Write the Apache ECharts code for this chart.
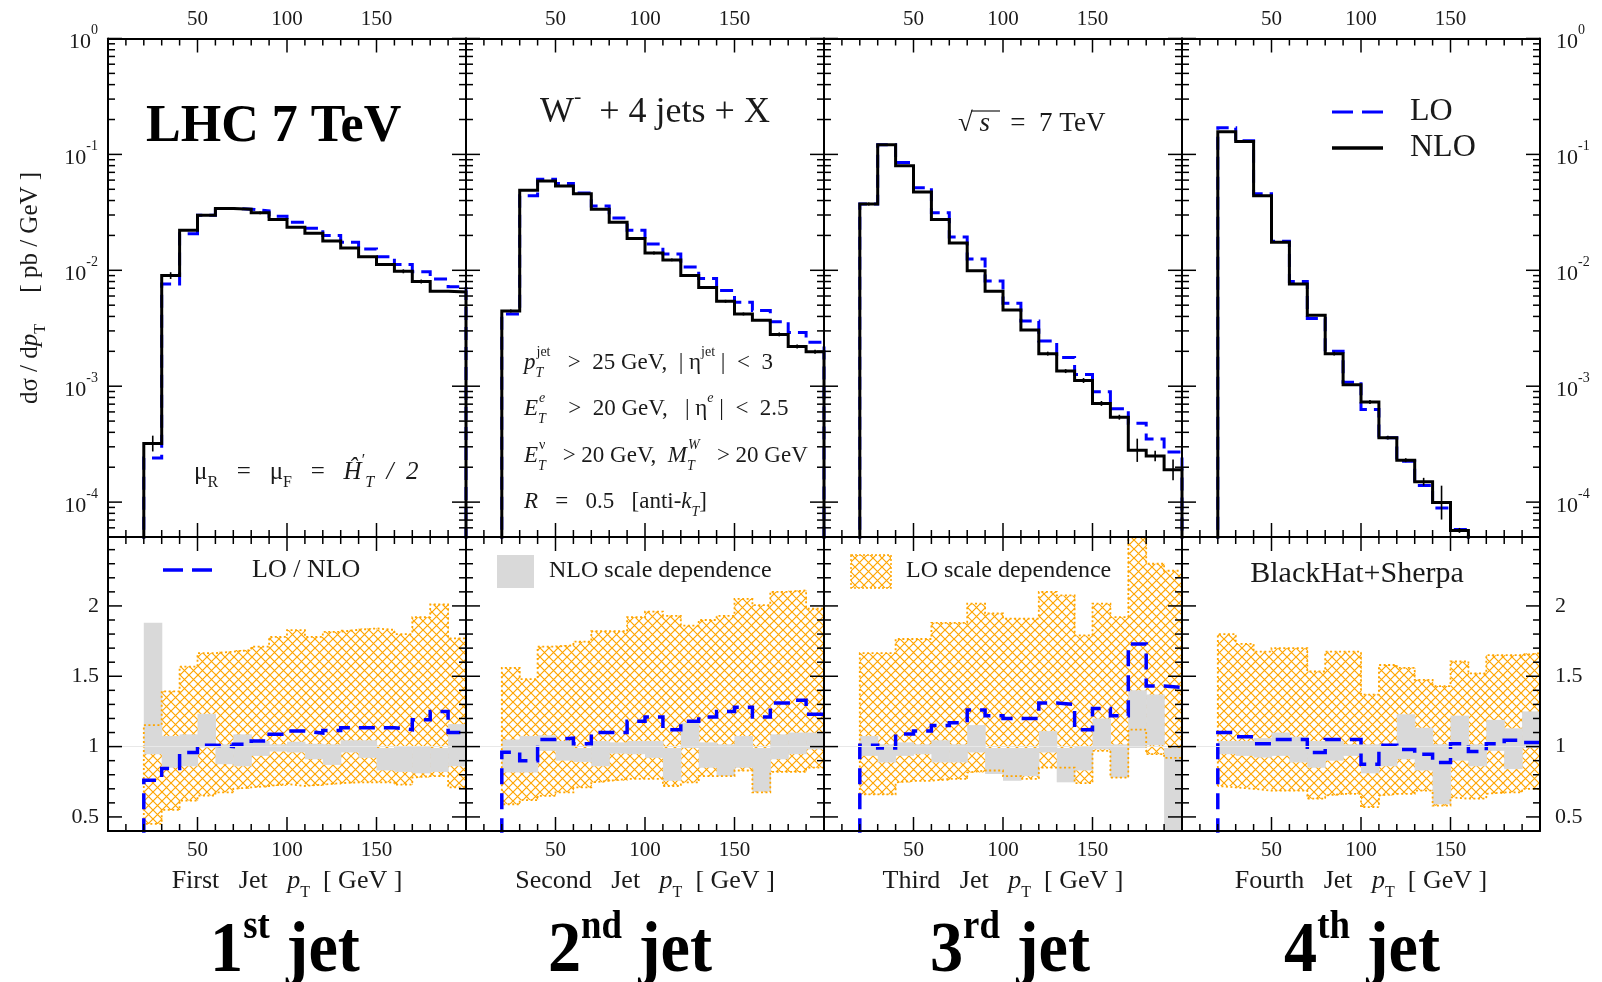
<!DOCTYPE html>
<html>
<head>
<meta charset="utf-8">
<script src="https://cdn.jsdelivr.net/npm/echarts@6/dist/echarts.min.js"></script>
<style>
html, body { margin: 0; padding: 0; background: #fff; }
#main { width: 1602px; height: 982px; }
</style>
</head>
<body>
<div id="main"></div>
<script>
// bin edges in GeV (10 GeV bins)
var binEdges = [20, 30, 40, 50, 60, 70, 80, 90, 100, 110, 120, 130, 140, 150, 160, 170, 180, 190, 200];
var xTickLabels = [50, 100, 150];
var logMajorTicks = [1e-4, 1e-3, 1e-2, 1e-1, 1];
var ratioTickLabels = [0.5, 1, 1.5, 2];

// d sigma / d pT  [pb/GeV], NLO and LO
var nlo1 = [3.2e-4, 9.0e-3, 0.0222, 0.0298, 0.0342, 0.0337, 0.0313, 0.0275, 0.0235, 0.0209, 0.0179, 0.0156, 0.0131, 0.0112, 0.0098, 0.0080, 0.0066, 0.0065];
var lo1  = [2.4e-4, 7.6e-3, 0.0207, 0.0298, 0.0342, 0.0337, 0.0326, 0.0292, 0.0260, 0.0231, 0.0200, 0.0175, 0.0153, 0.0131, 0.0112, 0.0097, 0.0084, 0.0072];
var nlo2 = [4.46e-3, 0.049, 0.059, 0.0533, 0.0458, 0.0337, 0.0260, 0.0188, 0.0141, 0.0123, 0.0090, 0.0071, 0.0054, 0.0042, 0.0037, 0.0028, 0.0022, 0.00198];
var lo2  = [4.2e-3, 0.0440, 0.061, 0.0560, 0.0465, 0.0359, 0.0282, 0.0222, 0.0169, 0.0138, 0.0107, 0.0085, 0.0067, 0.0053, 0.0045, 0.0036, 0.0029, 0.0024];
var nlo3 = [0.0373, 0.121, 0.080, 0.0474, 0.0275, 0.0172, 0.0099, 0.0066, 0.00455, 0.00306, 0.00191, 0.00135, 0.00112, 7.1e-4, 5.4e-4, 2.8e-4, 2.5e-4, 1.9e-4];
var lo3  = [0.0373, 0.121, 0.085, 0.0515, 0.0313, 0.0194, 0.0125, 0.0081, 0.0052, 0.00366, 0.00246, 0.00177, 0.00126, 8.95e-4, 6.4e-4, 4.8e-4, 3.5e-4, 2.7e-4];
var nlo4 = [0.157, 0.129, 0.044, 0.0175, 0.0076, 0.0041, 0.00191, 0.00103, 7.3e-4, 3.6e-4, 2.3e-4, 1.5e-4, 9.9e-5, 5.7e-5];
var lo4  = [0.170, 0.131, 0.0458, 0.0178, 0.0080, 0.00384, 0.0020, 0.00108, 6.3e-4, 3.6e-4, 2.25e-4, 1.39e-4, 8.9e-5, 5.8e-5];

// relative statistical error of the NLO bins (0 = too small to see)
var nloErr1 = [0.17, 0.07, 0.02, 0, 0, 0.02, 0.03, 0, 0, 0, 0, 0, 0, 0, 0.04, 0.04, 0, 0];
var nloErr2 = [0.03, 0, 0, 0, 0, 0, 0, 0, 0.03, 0.03, 0, 0, 0.03, 0.03, 0, 0.04, 0.04, 0.04];
var nloErr3 = [0.03, 0, 0, 0, 0, 0, 0, 0, 0, 0, 0.04, 0.04, 0.05, 0.05, 0.05, 0.26, 0.11, 0.23];
var nloErr4 = [0, 0, 0, 0, 0, 0, 0.04, 0, 0.04, 0.04, 0.04, 0.08, 0.40, 0.05];

// LO / NLO ratio
var ratio1 = [0.76, 0.845, 0.958, 1.01, 1.0, 1.016, 1.04, 1.087, 1.11, 1.096, 1.115, 1.134, 1.134, 1.134, 1.12, 1.19, 1.25, 1.10];
var ratio2 = [0.96, 0.90, 1.05, 1.06, 1.02, 1.10, 1.10, 1.18, 1.21, 1.12, 1.18, 1.21, 1.25, 1.28, 1.21, 1.31, 1.33, 1.23];
var ratio3 = [1.01, 0.99, 1.09, 1.11, 1.15, 1.17, 1.26, 1.22, 1.20, 1.20, 1.31, 1.30, 1.12, 1.27, 1.22, 1.73, 1.43, 1.42];
var ratio4 = [1.10, 1.07, 1.02, 1.05, 1.05, 0.958, 1.05, 1.05, 0.875, 1.01, 0.98, 0.946, 0.887, 1.02, 0.965, 1.02, 1.045, 1.03];

// LO scale dependence band (upper / lower)
var loUp1 = [1.153, 1.393, 1.569, 1.664, 1.675, 1.687, 1.71, 1.78, 1.828, 1.78, 1.816, 1.83, 1.84, 1.83, 1.80, 1.92, 2.01, 1.77];
var loDn1 = [0.45, 0.55, 0.616, 0.652, 0.675, 0.70, 0.71, 0.72, 0.734, 0.72, 0.73, 0.74, 0.746, 0.746, 0.73, 0.78, 0.79, 0.71];
var loUp2 = [1.56, 1.48, 1.71, 1.72, 1.746, 1.82, 1.82, 1.92, 1.96, 1.93, 1.86, 1.90, 1.93, 2.05, 2.005, 2.10, 2.11, 1.98];
var loDn2 = [0.59, 0.62, 0.65, 0.675, 0.71, 0.745, 0.757, 0.77, 0.77, 0.72, 0.745, 0.79, 0.79, 0.83, 0.675, 0.82, 0.82, 0.85];
var loUp3 = [1.664, 1.664, 1.765, 1.765, 1.88, 1.88, 2.016, 1.946, 1.91, 1.91, 2.10, 2.075, 1.79, 2.016, 1.92, 2.6, 2.30, 2.25];
var loDn3 = [0.66, 0.66, 0.745, 0.757, 0.757, 0.77, 0.816, 0.83, 0.79, 0.77, 0.85, 0.85, 0.74, 0.97, 0.78, 1.12, 0.946, 0.92];
var loUp4 = [1.80, 1.73, 1.675, 1.70, 1.70, 1.534, 1.675, 1.675, 1.37, 1.58, 1.56, 1.475, 1.43, 1.605, 1.52, 1.65, 1.65, 1.664];
var loDn4 = [0.72, 0.71, 0.70, 0.687, 0.687, 0.63, 0.652, 0.664, 0.57, 0.652, 0.664, 0.687, 0.58, 0.64, 0.63, 0.664, 0.675, 0.70];

// NLO scale dependence band (upper / lower)
var nloUp1 = [1.88, 1.075, 1.087, 1.233, 1.016, 1.087, 1.04, 1.016, 1.035, 1.02, 1.016, 1.045, 1.045, 0.99, 1.0, 1.0, 0.99, 1.16];
var nloDn1 = [0.946, 0.85, 0.86, 0.993, 0.875, 0.86, 0.934, 0.965, 0.958, 0.91, 0.87, 0.958, 0.92, 0.83, 0.82, 0.81, 0.82, 0.86];
var nloUp2 = [1.05, 1.075, 1.08, 1.04, 0.99, 1.04, 1.03, 1.04, 1.04, 0.99, 1.17, 1.03, 1.016, 1.075, 0.99, 1.087, 1.1, 1.1];
var nloDn2 = [0.816, 0.816, 0.97, 0.90, 0.89, 0.86, 0.95, 0.946, 0.92, 0.757, 0.99, 0.85, 0.79, 0.85, 0.68, 0.91, 0.946, 0.98];
var nloUp3 = [1.075, 1.016, 1.03, 1.016, 1.045, 1.016, 1.153, 0.99, 0.99, 0.99, 1.11, 0.99, 1.0, 1.2, 1.016, 1.40, 1.37, 0.99];
var nloDn3 = [0.934, 0.887, 0.934, 0.946, 0.887, 0.887, 0.958, 0.805, 0.757, 0.79, 0.958, 0.746, 0.83, 0.98, 0.78, 0.99, 1.01, 0.3];
var nloUp4 = [1.04, 1.04, 1.06, 1.1, 1.07, 1.04, 1.04, 1.016, 1.016, 1.016, 1.23, 1.134, 1.016, 1.22, 1.016, 1.19, 1.13, 1.25];
var nloDn4 = [0.946, 0.934, 0.922, 0.934, 0.887, 0.85, 0.90, 0.934, 0.81, 0.86, 0.91, 0.83, 0.59, 0.90, 0.86, 0.97, 0.84, 0.99];

var nloSets = [nlo1, nlo2, nlo3, nlo4];
var loSets = [lo1, lo2, lo3, lo4];
var errSets = [nloErr1, nloErr2, nloErr3, nloErr4];
var ratioSets = [ratio1, ratio2, ratio3, ratio4];
var loUpSets = [loUp1, loUp2, loUp3, loUp4], loDnSets = [loDn1, loDn2, loDn3, loDn4];
var nloUpSets = [nloUp1, nloUp2, nloUp3, nloUp4], nloDnSets = [nloDn1, nloDn2, nloDn3, nloDn4];

var xNames = ['First', 'Second', 'Third', 'Fourth'];
var jetOrd = [['1', 'st'], ['2', 'nd'], ['3', 'rd'], ['4', 'th']];

var FONT = '"Liberation Serif", "DejaVu Serif", serif';
var INK = '#1a1a1a';
var BLUE = '#0000ff';
var ORANGE = '#ffa500';
var GREY = '#d9d9d9';

var PANEL_LEFT = [108, 466, 824, 1182], PANEL_W = 358;
var TOP_Y = 38.5, TOP_H = 498.5, BOT_Y = 537, BOT_H = 294;
var LOG_MIN = 5e-5, LOG_MAX = 1;
var RATIO_MIN = 0.4, RATIO_MAX = 2.49;

// tick positions: 10 GeV minor / 50 GeV major, 2..9 x 10^n minor on the log axis, 0.1 / 0.5 on the ratio axis
var xTicks = [];
for (var xv = 10; xv < 200; xv += 10) xTicks.push([xv, xv % 50 === 0 ? 14 : 7]);
var logTicks = [];
for (var dec = -5; dec <= 0; dec++) {
    for (var m = 1; m <= 9; m++) {
        var t = m * Math.pow(10, dec);
        if (t > LOG_MIN * 1.001 && t <= LOG_MAX * 1.001) logTicks.push([t, m === 1 ? 14 : 7]);
    }
}
var ratioTicks = [];
for (var k = 5; k <= 24; k++) ratioTicks.push([k / 10, k % 5 === 0 ? 14 : 7]);

// orange cross-hatch pattern
var hatchCanvas = document.createElement('canvas');
hatchCanvas.width = 9; hatchCanvas.height = 9;
var hc = hatchCanvas.getContext('2d');
hc.strokeStyle = ORANGE; hc.lineWidth = 1.2;
hc.beginPath(); hc.moveTo(0, 0); hc.lineTo(9, 9); hc.moveTo(9, 0); hc.lineTo(0, 9); hc.stroke();
var hatch = {image: hatchCanvas, repeat: 'repeat'};

function frameAxis(gi, pos, type, min, max, label) {
    var ax = {
        gridIndex: gi, type: type, position: pos, min: min, max: max, z: 10,
        axisLine: {show: true, onZero: false, lineStyle: {color: '#000', width: 2}},
        axisTick: {show: false}, splitLine: {show: false}, minorTick: {show: false},
        axisLabel: {show: false}
    };
    if (type === 'log') ax.logBase = 10;
    if (label) ax.axisLabel = label;
    return ax;
}

var xLabel = {
    show: true, margin: 9, fontFamily: FONT, fontSize: 21, color: INK,
    customValues: xTickLabels,
    formatter: function(v) { return (v > 0 && v < 200) ? String(v) : ''; }
};

function powLabel(v) {
    var e = Math.round(Math.log(v) / Math.LN10);
    return '{b|10}{s|' + e + '}';
}

function logLabel(margin) {
    return {
        show: true, customValues: logMajorTicks, formatter: powLabel, margin: margin,
        rich: {
            b: {fontFamily: FONT, fontSize: 22, color: INK, lineHeight: 30, verticalAlign: 'bottom'},
            s: {fontFamily: FONT, fontSize: 14, color: INK, lineHeight: 14, verticalAlign: 'top'}
        }
    };
}

function ratioLabel(margin) {
    return {
        show: true, customValues: ratioTickLabels, margin: margin, fontFamily: FONT, fontSize: 22, color: INK,
        formatter: function(v) { return String(v); }
    };
}

function histPoints(vals, floor) {
    var n = vals.length, pts = [[binEdges[0], floor]];
    for (var i = 0; i < n; i++) pts.push([binEdges[i], vals[i]]);
    pts.push([binEdges[n], vals[n - 1]]);
    pts.push([binEdges[n], floor]);
    return pts;
}

function ratioPoints(vals) {
    var n = vals.length, pts = [[binEdges[0], 0.2]];
    for (var i = 0; i < n; i++) pts.push([binEdges[i], vals[i]]);
    pts.push([binEdges[n], vals[n - 1]]);
    return pts;
}

// closed step outline of a band: up along the upper edge, back along the lower one
function bandOutline(dn, up) {
    var n = up.length, pts = [[binEdges[0], dn[0]]];
    for (var i = 0; i < n; i++) pts.push([binEdges[i], up[i]]);
    pts.push([binEdges[n], up[n - 1]]);
    pts.push([binEdges[n], dn[n - 1]]);
    for (var j = n - 2; j >= 0; j--) pts.push([binEdges[j + 1], dn[j]]);
    pts.push([binEdges[0], dn[0]]);
    return pts;
}

function bandBins(dn, up) {
    return dn.map(function(d, i) { return [binEdges[i], binEdges[i + 1], d, up[i]]; });
}

function bandRenderer(fill) {
    return function(params, api) {
        var a = api.coord([api.value(0), api.value(3)]);
        var b = api.coord([api.value(1), api.value(2)]);
        var cs = params.coordSys;
        var shape = echarts.graphic.clipRectByRect(
            {x: a[0], y: a[1], width: b[0] - a[0] + 0.6, height: b[1] - a[1]},
            {x: cs.x, y: cs.y, width: cs.width, height: cs.height}
        );
        return shape && {type: 'rect', shape: shape, style: {fill: fill}};
    };
}

function stepLine(data, gi, color, width, dash, z) {
    return {
        type: 'line', xAxisIndex: gi, yAxisIndex: gi, data: data, step: 'end',
        symbol: 'none', showSymbol: false, silent: true, clip: true, z: z || 3,
        lineStyle: {color: color, width: width, type: dash || 'solid', cap: 'butt', join: 'miter'}
    };
}

// inside ticks on all four sides of a panel, placed through the panel's own scales
function tickSeries(gi, yTicks, yProbe) {
    var data = [];
    xTicks.forEach(function(t) { data.push([0, t[0], t[1]]); });
    yTicks.forEach(function(t) { data.push([1, t[0], t[1]]); });
    return {
        type: 'custom', xAxisIndex: gi, yAxisIndex: gi, silent: true, z: 11, clip: false,
        encode: {x: -1, y: -1},
        data: data,
        renderItem: function(params, api) {
            var cs = params.coordSys, kind = api.value(0), v = api.value(1), len = api.value(2);
            var st = {stroke: '#000', lineWidth: 1.5};
            if (kind === 0) {
                var x = api.coord([v, yProbe])[0];
                return {type: 'group', children: [
                    {type: 'line', shape: {x1: x, y1: cs.y, x2: x, y2: cs.y + len}, style: st},
                    {type: 'line', shape: {x1: x, y1: cs.y + cs.height, x2: x, y2: cs.y + cs.height - len}, style: st}
                ]};
            }
            var y = api.coord([100, v])[1];
            return {type: 'group', children: [
                {type: 'line', shape: {x1: cs.x, y1: y, x2: cs.x + len, y2: y}, style: st},
                {type: 'line', shape: {x1: cs.x + cs.width, y1: y, x2: cs.x + cs.width - len, y2: y}, style: st}
            ]};
        }
    };
}

function errSeries(gi, vals, errs) {
    var data = [];
    vals.forEach(function(v, i) {
        if (errs[i] > 0) data.push([(binEdges[i] + binEdges[i + 1]) / 2, v, errs[i]]);
    });
    return {
        type: 'custom', xAxisIndex: gi, yAxisIndex: gi, silent: true, z: 5,
        encode: {x: 0, y: 1},
        data: data,
        renderItem: function(params, api) {
            var x = api.value(0), v = api.value(1), e = api.value(2);
            var a = api.coord([x, v * (1 + e)]), b = api.coord([x, v / (1 + e)]);
            return {type: 'line', shape: {x1: a[0], y1: a[1], x2: b[0], y2: b[1]}, style: {stroke: '#000', lineWidth: 1.6}};
        }
    };
}

var grids = [], xAxes = [], yAxes = [], series = [];
var p;
for (p = 0; p < 4; p++) {
    grids.push({left: PANEL_LEFT[p], top: TOP_Y, width: PANEL_W, height: TOP_H, outerBoundsMode: 'none', containLabel: false});
}
for (p = 0; p < 4; p++) {
    grids.push({left: PANEL_LEFT[p], top: BOT_Y, width: PANEL_W, height: BOT_H, outerBoundsMode: 'none', containLabel: false});
}

// axis index = grid index for the axes that carry the series; mirrored frame axes come after
for (p = 0; p < 8; p++) {
    xAxes.push(frameAxis(p, 'bottom', 'value', 0, 200, p >= 4 ? xLabel : null));
}
for (p = 0; p < 8; p++) {
    xAxes.push(frameAxis(p, 'top', 'value', 0, 200, p < 4 ? xLabel : null));
}
for (p = 0; p < 4; p++) {
    yAxes.push(frameAxis(p, 'left', 'log', LOG_MIN, LOG_MAX, p === 0 ? logLabel(10) : null));
}
for (p = 0; p < 4; p++) {
    yAxes.push(frameAxis(4 + p, 'left', 'value', RATIO_MIN, RATIO_MAX, p === 0 ? ratioLabel(9) : null));
}
for (p = 0; p < 4; p++) {
    yAxes.push(frameAxis(p, 'right', 'log', LOG_MIN, LOG_MAX, p === 3 ? logLabel(16) : null));
}
for (p = 0; p < 4; p++) {
    yAxes.push(frameAxis(4 + p, 'right', 'value', RATIO_MIN, RATIO_MAX, p === 3 ? ratioLabel(15) : null));
}

for (p = 0; p < 4; p++) {
    // spectra
    series.push(stepLine(histPoints(loSets[p], 1e-7), p, BLUE, 3, [13, 7], 3));
    series.push(stepLine(histPoints(nloSets[p], 1e-7), p, '#000', 3, 'solid', 4));
    series.push(errSeries(p, nloSets[p], errSets[p]));
    series.push(tickSeries(p, logTicks, 0.01));

    // ratio panel
    var gi = 4 + p;
    series.push({
        type: 'custom', xAxisIndex: gi, yAxisIndex: gi, silent: true, z: 2,
        encode: {x: [0, 1], y: [2, 3]},
        data: bandBins(loDnSets[p], loUpSets[p]), renderItem: bandRenderer(hatch)
    });
    var outline = stepLine(bandOutline(loDnSets[p], loUpSets[p]), gi, ORANGE, 1.8, [2, 2.5], 2);
    outline.markLine = {
        silent: true, symbol: 'none', label: {show: false}, animation: false,
        lineStyle: {color: '#e8e8e8', width: 1, type: 'solid'},
        data: [{yAxis: 1}]
    };
    series.push(outline);
    series.push({
        type: 'custom', xAxisIndex: gi, yAxisIndex: gi, silent: true, z: 2,
        encode: {x: [0, 1], y: [2, 3]},
        data: bandBins(nloDnSets[p], nloUpSets[p]), renderItem: bandRenderer(GREY)
    });
    series.push(stepLine(ratioPoints(ratioSets[p]), gi, BLUE, 3.5, [16, 9], 4));
    series.push(tickSeries(gi, ratioTicks, 1));
}

function richSet(fs) {
    var lh = Math.round(fs * 1.5), sm = Math.round(fs * 0.62);
    return {
        n: {fontFamily: FONT, fontSize: fs, lineHeight: lh, verticalAlign: 'middle', fill: INK},
        it: {fontFamily: FONT, fontSize: fs, fontStyle: 'italic', lineHeight: lh, verticalAlign: 'middle', fill: INK},
        sub: {fontFamily: FONT, fontSize: sm, lineHeight: sm, verticalAlign: 'bottom', fill: INK},
        subi: {fontFamily: FONT, fontSize: sm, fontStyle: 'italic', lineHeight: sm, verticalAlign: 'bottom', fill: INK},
        subw: {fontFamily: FONT, fontSize: sm, fontStyle: 'italic', lineHeight: sm, verticalAlign: 'bottom', width: 1, fill: INK},
        sup: {fontFamily: FONT, fontSize: sm, lineHeight: sm, verticalAlign: 'top', fill: INK},
        supi: {fontFamily: FONT, fontSize: sm, fontStyle: 'italic', lineHeight: sm, verticalAlign: 'top', fill: INK}
    };
}

function richText(x, y, text, fs, align, extra) {
    var el = {
        type: 'text', x: x, y: y, z: 20, silent: true,
        style: {text: text, rich: richSet(fs), align: align || 'left', verticalAlign: 'middle', fill: INK,
                fontFamily: FONT, fontSize: fs}
    };
    if (extra) for (var key in extra) el[key] = extra[key];
    return el;
}

var graphics = [
    richText(30, 288, '{n|dσ / d}{it|p}{sub|T}{n|     [ pb / GeV ]}', 25, 'center', {rotation: Math.PI / 2}),
    {type: 'text', x: 146, y: 128, z: 20, silent: true,
     style: {text: 'LHC 7 TeV', fontFamily: FONT, fontWeight: 'bold', fontSize: 52, fill: '#000', verticalAlign: 'middle'}},
    richText(540, 113, '{n|W}{sup|-}{n|  + 4 jets + X}', 36),
    richText(958, 124, '{n|√}{it| s }{n|  =  7 TeV}', 27),
    {type: 'line', z: 20, silent: true, shape: {x1: 971, y1: 111, x2: 1000, y2: 111}, style: {stroke: INK, lineWidth: 1.2}},
    {type: 'line', z: 20, silent: true, shape: {x1: 1332, y1: 112, x2: 1383, y2: 112}, style: {stroke: BLUE, lineWidth: 3, lineDash: [21, 9]}},
    {type: 'line', z: 20, silent: true, shape: {x1: 1332, y1: 148, x2: 1383, y2: 148}, style: {stroke: '#000', lineWidth: 3.5}},
    richText(1410, 112, '{n|LO}', 32),
    richText(1410, 148, '{n|NLO}', 32),
    richText(194, 472, '{n|μ}{sub|R}{n|   =   μ}{sub|F}{n|   =   }{it|Ĥ}{sup|′}{subi|T}{it|  /  2}', 25),
    richText(524, 363, '{it|p}{subw|T}{sup|jet}{n|   >  25 GeV,  | η}{sup|jet}{n| |  <  3}', 23),
    richText(524, 409, '{it|E}{subw|T}{supi|e}{n|    >  20 GeV,   | η}{supi|e}{n| |  <  2.5}', 23),
    richText(524, 456, '{it|E}{subw|T}{sup|ν}{n|   > 20 GeV,  }{it|M}{subw|T}{supi|W}{n|   > 20 GeV}', 23),
    richText(524, 502, '{it|R}{n|   =   0.5   [anti-}{it|k}{subi|T}{n|]}', 23),
    {type: 'line', z: 20, silent: true, shape: {x1: 163, y1: 570, x2: 212, y2: 570}, style: {stroke: BLUE, lineWidth: 3.5, lineDash: [20, 9]}},
    richText(252, 570, '{n|LO / NLO}', 26),
    {type: 'rect', z: 20, silent: true, shape: {x: 497, y: 555, width: 37, height: 33}, style: {fill: GREY}},
    richText(549, 571, '{n|NLO scale dependence}', 24),
    {type: 'rect', z: 20, silent: true, shape: {x: 851, y: 555, width: 40, height: 33},
     style: {fill: hatch, stroke: ORANGE, lineWidth: 1.5, lineDash: [2, 2]}},
    richText(906, 571, '{n|LO scale dependence}', 24),
    richText(1357, 574, '{n|BlackHat+Sherpa}', 30, 'center')
];

for (p = 0; p < 4; p++) {
    var cx = PANEL_LEFT[p] + PANEL_W / 2;
    graphics.push(richText(cx, 881, '{n|' + xNames[p] + '   Jet   }{it|p}{sub|T}{n|  [ GeV ]}', 26, 'center'));
    graphics.push({
        type: 'text', x: [285, 630, 1010, 1362][p], y: 948, z: 20, silent: true, scaleX: 0.92,
        style: {
            text: '{b|' + jetOrd[p][0] + '}{s|' + jetOrd[p][1] + '}{b| jet}', align: 'center', verticalAlign: 'middle',
            rich: {
                b: {fontFamily: FONT, fontWeight: 'bold', fontSize: 72, lineHeight: 80, verticalAlign: 'bottom', fill: '#000'},
                s: {fontFamily: FONT, fontWeight: 'bold', fontSize: 40, lineHeight: 40, verticalAlign: 'top', fill: '#000'}
            }
        }
    });
}

var chart = echarts.init(document.getElementById('main'), null, {renderer: 'canvas'});
chart.setOption({
    backgroundColor: '#ffffff',
    animation: false,
    grid: grids,
    xAxis: xAxes,
    yAxis: yAxes,
    series: series,
    graphic: graphics
});
</script>
</body>
</html>
